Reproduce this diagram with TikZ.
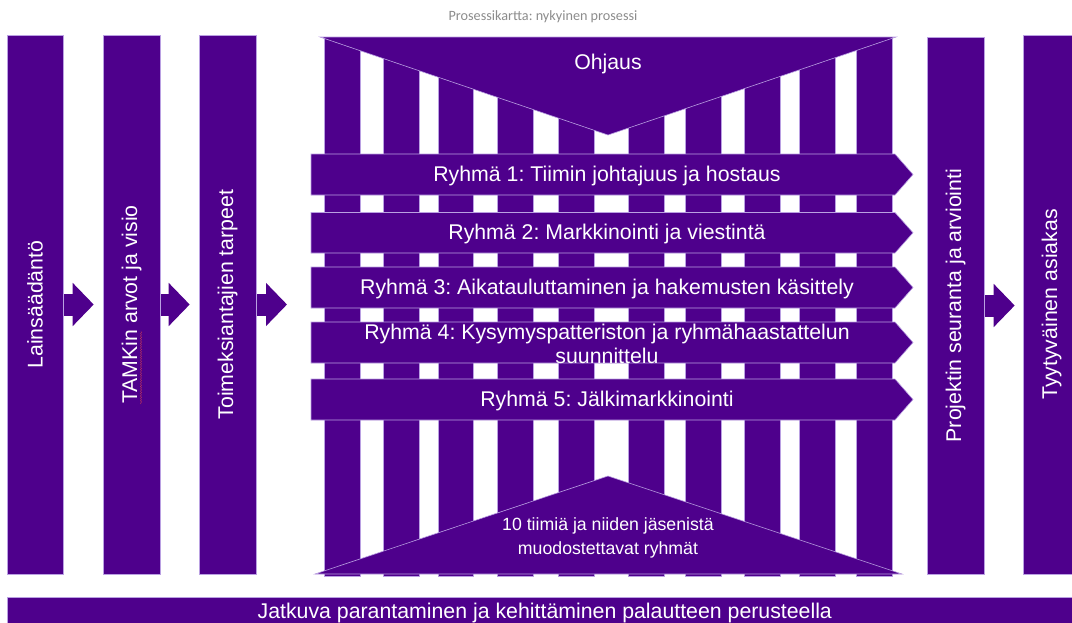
\documentclass[tikz,border=0pt]{standalone}
\usepackage{fontspec}
\setmainfont{Liberation Sans}
\newfontfamily\captionfont{Carlito}
\usetikzlibrary{calc,arrows.meta,decorations.pathmorphing}

\definecolor{purp}{RGB}{78,0,140}
\definecolor{lav}{RGB}{186,160,226}
\definecolor{captiongray}{RGB}{140,140,140}
\definecolor{spellred}{RGB}{230,70,70}

\pgfdeclarelayer{bg}
\pgfsetlayers{bg,main}

\begin{document}
\frenchspacing
\begin{tikzpicture}[x=1pt,y=-1pt,
  bigtext/.style={text=white, font=\fontsize{21.3}{24.5}\selectfont, inner sep=0pt, align=center},
  vbox/.style={fill=purp, draw=lav, line width=0.6pt, minimum width=57pt, minimum height=539pt,
    inner sep=0pt, bigtext},
  shapefill/.style={fill=purp, draw=lav, line width=0.6pt},
  stripe/.style={fill=purp, draw=lav, line width=0.5pt},
  flow/.style={draw=purp, line width=22pt, -{Triangle[length=21pt,width=42pt]}},
]
\useasboundingbox (0,0) rectangle (1072,622);
\clip (0,0) rectangle (1072,622);

% caption
\node[font=\captionfont\fontsize{14.2}{16}\selectfont, text=captiongray] (title) at (543,17)
  {Prosessikartta: nykyinen prosessi};

% vertical stage boxes
\node[vbox, minimum width=56pt] (b1) at (35,304.5) {\rotatebox{90}{Lainsäädäntö}};
\node[vbox] (b2) at (131.5,304.5) {\rotatebox{90}{TAMKin arvot ja visio}};
\node[vbox] (b3) at (227.5,304.5) {\rotatebox{90}{Toimeksiantajien tarpeet}};
\node[vbox, minimum height=537pt] (b4) at (955.5,305.5) {\rotatebox{90}{Projektin seuranta ja arviointi}};
\node[vbox] (b5) at (1051.5,304.5) {\rotatebox{90}{Tyytyväinen asiakas}};
\coordinate (core) at (311,304.5);

% spell-check mark under "TAMKin"
\draw[spellred, line width=0.35pt, dash pattern=on 0.8pt off 0.5pt, decorate,
  decoration={snake, amplitude=0.6pt, segment length=2.4pt}]
  (141,404) -- (141,331);

% flow arrows between the stages
\begin{pgfonlayer}{bg}
\draw[flow, shorten >=9pt] (b1.east) -- (b2.west);
\draw[flow, shorten >=9pt] (b2.east) -- (b3.west);
\draw[flow, shorten >=24pt] (b3.east) -- (core);
\draw[flow, shorten >=8pt] (b4.east) -- (b4.east -| b5.west);
\end{pgfonlayer}

% team pillars
\foreach \a/\b in {324/360,383/419,438/473,497/533,558/594,628/664,685/721,744/780,799/835,856/892}
  \draw[stripe] (\a,37) rectangle (\b,576);

% steering wedge on top
\draw[shapefill] (320,37) -- (896,37) -- (608,135) -- cycle;
\node[bigtext] (ohjaus) at (608,63.5) {Ohjaus};

% teams wedge at the bottom
\draw[shapefill] (315,574) -- (902,574) -- (608,476) -- cycle;
\node[bigtext, font=\fontsize{17.7}{24}\selectfont] (teams) at (608,538)
  {10 tiimiä ja niiden jäsenistä\\muodostettavat ryhmät};

% group bands
\foreach \i/\t/\b/\txt in {
  1/154/195/{Ryhmä 1: Tiimin johtajuus ja hostaus},
  2/212.5/253/{Ryhmä 2: Markkinointi ja viestintä},
  3/267/308/{Ryhmä 3: Aikatauluttaminen ja hakemusten käsittely},
  4/322/363/{Ryhmä 4: Kysymyspatteriston ja ryhmähaastattelun\\suunnittelu},
  5/379/420/{Ryhmä 5: Jälkimarkkinointi}}{
  \draw[shapefill] (311,\t) -- (895,\t) -- (913,{(\t+\b)/2}) -- (895,\b) -- (311,\b) -- cycle;
  \node[bigtext] (g\i) at (607,{(\t+\b)/2+1.5}) {\txt};
}

% feedback bar
\node[fill=purp, draw=lav, line width=0.6pt, minimum width=1075pt, minimum height=31pt,
  bigtext, anchor=north west] (bar) at (7,597)
  {Jatkuva parantaminen ja kehittäminen palautteen perusteella};
\end{tikzpicture}
\end{document}
